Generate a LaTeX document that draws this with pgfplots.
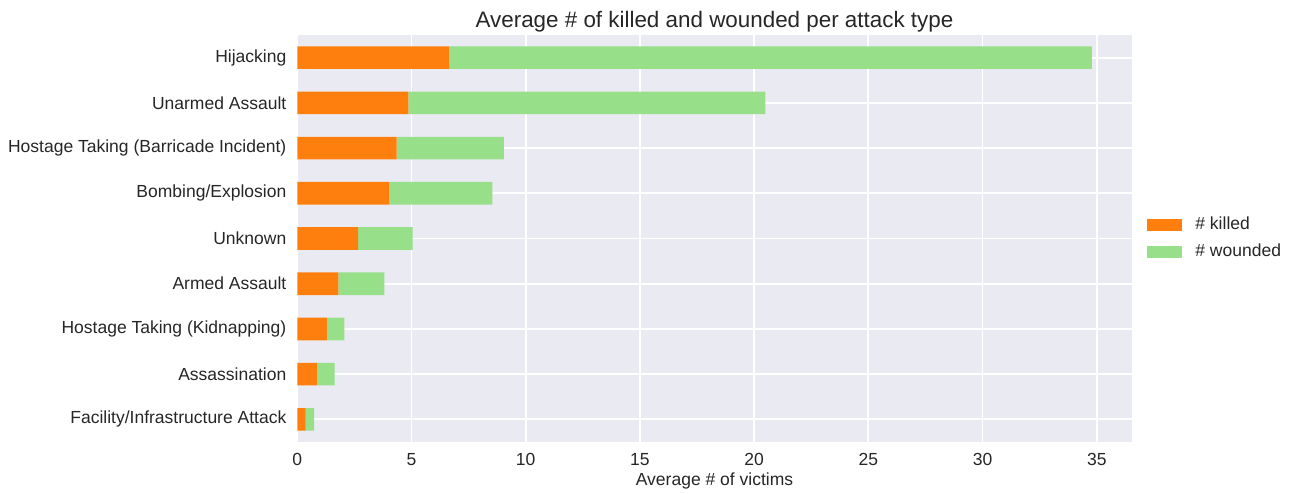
\documentclass[border=0pt]{standalone}
\usepackage{fontspec}
\setmainfont{Liberation Sans}
\usepackage{pgfplots}
\pgfplotsset{compat=1.18}

\definecolor{sbbg}{HTML}{EAEAF2}
\definecolor{sbtext}{HTML}{262626}
\definecolor{killedc}{HTML}{FF7F0E}
\definecolor{woundedc}{HTML}{98DF8A}

\begin{document}
\begin{tikzpicture}
% frame of the whole figure (1 px = 0.5 pt)
\useasboundingbox (-148.65pt,-25.5pt) rectangle (498.35pt,221pt);
\begin{axis}[
  at={(0,0)}, anchor=south west,
  scale only axis,
  width=417.2pt, height=203.5pt,
  xbar stacked,
  bar width=0.5,
  xmin=0, xmax=36.53,
  ymin=-0.5, ymax=8.5,
  xtick={0,5,...,35},
  ytick={0,...,8},
  yticklabels={Facility/Infrastructure Attack, Assassination, Hostage Taking (Kidnapping), Armed Assault, Unknown, Bombing/Explosion, Hostage Taking (Barricade Incident), Unarmed Assault, Hijacking},
  /pgf/number format/assume math mode=true,
  axis background/.style={fill=sbbg},
  axis line style={draw=none},
  major tick length=0pt,
  grid=major,
  grid style={white, line width=0.9pt},
  tick label style={font=\fontsize{8.75}{10}\selectfont, text=sbtext},
  xticklabel style={inner sep=0pt, anchor=north, yshift=-5.5pt},
  yticklabel style={inner sep=0pt, anchor=east, xshift=-5.3pt},
  xlabel={Average \# of victims},
  xlabel style={font=\fontsize{8.75}{10}\selectfont, text=sbtext, at={(axis description cs:0.5,0)}, anchor=base, yshift=-21.85pt},
  title={Average \# of killed and wounded per attack type},
  every axis title/.style={font=\fontsize{11.2}{13}\selectfont, text=sbtext, at={(axis description cs:0.5,1)}, anchor=base, yshift=3.75pt},
  legend style={at={(1,0.5)}, anchor=west, xshift=7.65pt, draw=none, fill=none,
    font=\fontsize{8.75}{10}\selectfont, text=sbtext, inner sep=0pt,
    column sep=6.5pt, row sep=0pt,
    nodes={inner sep=0pt, text height=9pt, text depth=4.5pt}},
  legend cell align=left,
]
\addplot[fill=killedc, draw=none,
  legend image code/.code={\fill[killedc] (0pt,-3pt) rectangle (17.5pt,3pt);}]
  coordinates {(0.37,0) (0.86,1) (1.30,2) (1.80,3) (2.66,4) (4.03,5) (4.35,6) (4.86,7) (6.66,8)};
\addplot[fill=woundedc, draw=none,
  legend image code/.code={\fill[woundedc] (0pt,-3pt) rectangle (17.5pt,3pt);}]
  coordinates {(0.37,0) (0.77,1) (0.76,2) (2.01,3) (2.39,4) (4.51,5) (4.69,6) (15.63,7) (28.13,8)};
\legend{\# killed, \# wounded}
\end{axis}
\end{tikzpicture}
\end{document}
